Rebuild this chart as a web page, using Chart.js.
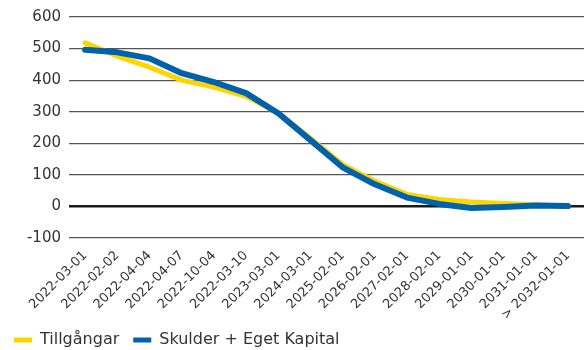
<!DOCTYPE html>
<html>
<head>
<meta charset="utf-8">
<script src="https://cdn.jsdelivr.net/npm/chart.js@4"></script>
<style>
  html, body { margin: 0; padding: 0; background: #fff; }
  #wrap { width: 584px; height: 350px; }
</style>
</head>
<body>
<div id="wrap"><canvas id="graf"></canvas></div>
<script>
// ----------- LÖPTIDSANALYS -----------
const datum = ["2022-03-01", "2022-02-02", "2022-04-04", "2022-04-07", "2022-10-04", "2022-03-10",
  "2023-03-01", "2024-03-01", "2025-02-01", "2026-02-01", "2027-02-01", "2028-02-01",
  "2029-01-01", "2030-01-01", "2031-01-01", "> 2032-01-01"];
const tillgangar = [518, 476, 441, 400, 378, 349, 296, 215, 133, 80, 38, 22, 14, 9, 5, 0];
const skulder = [496, 488, 469, 422, 394, 359, 295, 210, 124, 70, 28, 8, -5, -2, 3, 1];
const yTicks = [-100, 0, 100, 200, 300, 400, 500, 600];

const typsnitt = "'DejaVu Sans', sans-serif";
const text = "#333333";

document.addEventListener("DOMContentLoaded", () => {
  new Chart(document.getElementById("graf"), {
    type: "line",
    data: {
      labels: datum,
      datasets: [
        {
          label: "Tillgångar",
          data: tillgangar,
          borderColor: "#FFD500",
          backgroundColor: "#FFD500",
          borderWidth: 5,
          order: 1
        },
        {
          label: "Skulder + Eget Kapital",
          data: skulder,
          borderColor: "#0061AD",
          backgroundColor: "#0061AD",
          borderWidth: 6,
          order: 0
        }
      ]
    },
    options: {
      responsive: true,
      maintainAspectRatio: false,
      animation: false,
      // negativ marginal nedtill så att förklaringen hamnar längst ner
      layout: { padding: { top: 6, right: 0, bottom: -8, left: 0 } },
      elements: {
        point: { radius: 0, hoverRadius: 0 },
        line: { tension: 0, borderCapStyle: "round", borderJoinStyle: "round" }
      },
      scales: {
        x: {
          offset: true,
          grid: { display: false },
          border: { display: false },
          afterFit: s => { s.height = 80; },
          ticks: {
            autoSkip: false,
            minRotation: 45,
            maxRotation: 45,
            padding: 2,
            color: text,
            font: { family: typsnitt, size: 13 }
          }
        },
        y: {
          min: -100,
          max: 600,
          afterBuildTicks: s => { s.ticks = yTicks.map(v => ({ value: v })); },
          afterFit: s => { s.width = 69; },
          border: { display: false },
          grid: {
            drawTicks: false,
            color: c => c.tick && c.tick.value === 0 ? "#1a1a1a" : "#555555",
            lineWidth: c => c.tick && c.tick.value === 0 ? 2.5 : 1.2
          },
          ticks: {
            padding: 8,
            color: text,
            font: { family: typsnitt, size: 15 }
          }
        }
      },
      plugins: {
        tooltip: { enabled: false },
        legend: {
          position: "bottom",
          align: "start",
          labels: {
            boxWidth: 18,
            boxHeight: 5,
            padding: 14,
            color: text,
            font: { family: typsnitt, size: 16 },
            sort: (a, b) => a.datasetIndex - b.datasetIndex,
            generateLabels: chart =>
              Chart.defaults.plugins.legend.labels.generateLabels(chart)
                .map(l => ({ ...l, lineWidth: 0 }))
          }
        }
      }
    }
  });
});
</script>
</body>
</html>
